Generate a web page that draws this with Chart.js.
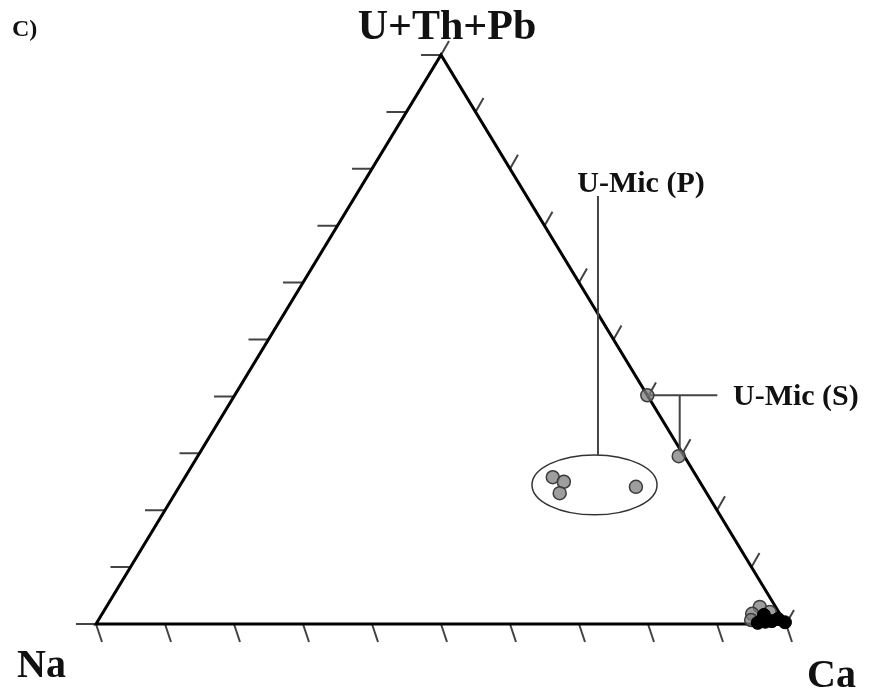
<!DOCTYPE html>
<html>
<head>
<meta charset="utf-8">
<script src="https://cdn.jsdelivr.net/npm/chart.js@4.4.1/dist/chart.umd.min.js"></script>
<style>
  html, body { margin: 0; padding: 0; background: #fff; }
</style>
</head>
<body>
<canvas id="ternary" width="869" height="695"></canvas>
<script>
// Apex labels of the ternary plot
const apexLabels = { left: 'Na', right: 'Ca', top: 'U+Th+Pb' };
const panelLabel = 'C)';
const groupLabels = { primary: 'U-Mic (P)', secondary: 'U-Mic (S)' };

// U-Mic (P) analyses (normalised %)
const micP_Na = [20.9, 19.7, 21.3, 9.7];
const micP_Ca = [53.3, 55.3, 55.7, 66.2];
const micP_U = [25.8, 25.0, 23.0, 24.1];

// U-Mic (S) analyses
const micS_Na = [0.0, 0.8];
const micS_Ca = [59.8, 69.7];
const micS_U = [40.2, 29.5];

// Ca-rich analyses, grey symbols
const caGrey_Na = [2.3, 4.0, 4.7, 1.3];
const caGrey_Ca = [94.7, 94.2, 94.6, 96.6];
const caGrey_U = [3.0, 1.8, 0.7, 2.1];

// Ca-rich analyses, black symbols
const caBlack_Na = [4.0, 2.8, 1.8, 0.7, 2.4, 0.0];
const caBlack_Ca = [95.8, 96.8, 97.7, 98.4, 96.0, 99.7];
const caBlack_U = [0.2, 0.4, 0.5, 0.9, 1.6, 0.3];

// tick divisions along each side
const divisions = 10;

// ternary -> cartesian (Na at 0,0 ; Ca at 1,0 ; U+Th+Pb at 0.5,1)
function tern(na, ca, u) {
    const s = na + ca + u;
    return { x: (ca + u / 2) / s, y: u / s };
}
function toPoints(na, ca, u) {
    return na.map((v, i) => tern(v, ca[i], u[i]));
}

const greyStyle = {
    backgroundColor: 'rgba(125,125,125,0.75)',
    borderColor: '#3c3c3c',
    borderWidth: 1.5,
    pointRadius: 6.5,
    clip: false
};

// triangle frame, ticks, ellipse and leader lines
const framePlugin = {
    id: 'frame',
    beforeDatasetsDraw(chart) {
        const { ctx, scales: { x, y } } = chart;
        const px = p => ({ x: x.getPixelForValue(p.x), y: y.getPixelForValue(p.y) });
        const A = px({ x: 0, y: 0 }), B = px({ x: 1, y: 0 }), C = px({ x: 0.5, y: 1 });

        ctx.save();
        ctx.lineCap = 'butt';

        // ticks
        ctx.strokeStyle = '#444';
        ctx.lineWidth = 2;
        for (let k = 0; k <= divisions; k++) {
            const t = k / divisions;
            // left side, horizontal ticks pointing out
            const l = { x: C.x + (A.x - C.x) * t, y: C.y + (A.y - C.y) * t };
            // base, slanted down
            const b = { x: A.x + (B.x - A.x) * t, y: A.y };
            // right side, slanted up
            const r = { x: B.x + (C.x - B.x) * t, y: B.y + (C.y - B.y) * t };
            ctx.beginPath();
            ctx.moveTo(l.x, l.y); ctx.lineTo(l.x - 20, l.y);
            ctx.moveTo(b.x, b.y); ctx.lineTo(b.x + 6, b.y + 18);
            ctx.moveTo(r.x, r.y); ctx.lineTo(r.x + 8, r.y - 14);
            ctx.stroke();
        }

        // triangle
        ctx.strokeStyle = '#000';
        ctx.lineWidth = 3;
        ctx.lineJoin = 'miter';
        ctx.beginPath();
        ctx.moveTo(A.x, A.y); ctx.lineTo(B.x, B.y); ctx.lineTo(C.x, C.y); ctx.closePath();
        ctx.stroke();

        // ellipse around the U-Mic (P) group
        const ec = px({ x: 0.7225, y: 0.2445 });
        const erx = x.getPixelForValue(0.7225 + 0.0906) - ec.x;
        const ery = ec.y - y.getPixelForValue(0.2445 + 0.0527);
        ctx.strokeStyle = '#333';
        ctx.lineWidth = 1.5;
        ctx.beginPath();
        ctx.ellipse(ec.x, ec.y, erx, ery, 0, 0, Math.PI * 2);
        ctx.stroke();

        // leader lines
        ctx.strokeStyle = '#444';
        ctx.lineWidth = 2;
        const pTop = px({ x: 0.7275, y: 0.752 });
        const pBot = px({ x: 0.7275, y: 0.2972 });
        ctx.beginPath();
        ctx.moveTo(pTop.x, pTop.y); ctx.lineTo(pBot.x, pBot.y);
        ctx.stroke();

        const s1 = px(tern(micS_Na[0], micS_Ca[0], micS_U[0]));
        const s2 = px(tern(micS_Na[1], micS_Ca[1], micS_U[1]));
        ctx.beginPath();
        ctx.moveTo(s1.x, s1.y); ctx.lineTo(s1.x + 70, s1.y);
        ctx.moveTo(s2.x + 1, s1.y); ctx.lineTo(s2.x + 1, s2.y - 4);
        ctx.stroke();
        ctx.restore();
    },
    afterDraw(chart) {
        const { ctx } = chart;
        ctx.save();
        ctx.fillStyle = '#111';
        ctx.textBaseline = 'alphabetic';
        ctx.textAlign = 'left';
        ctx.font = 'bold 24px "Liberation Serif"';
        ctx.fillText(panelLabel, 12, 36);
        ctx.font = 'bold 42px "Liberation Serif"';
        ctx.textAlign = 'center';
        ctx.fillText(apexLabels.top, 447, 39);
        ctx.textAlign = 'left';
        ctx.font = 'bold 40px "Liberation Serif"';
        ctx.fillText(apexLabels.left, 17, 677);
        ctx.fillText(apexLabels.right, 807, 687);
        ctx.font = 'bold 30px "Liberation Serif"';
        ctx.textAlign = 'center';
        ctx.fillText(groupLabels.primary, 641, 192);
        ctx.textAlign = 'left';
        ctx.fillText(groupLabels.secondary, 733, 405);
        ctx.restore();
    }
};

new Chart(document.getElementById('ternary'), {
    type: 'scatter',
    data: {
        datasets: [{
            label: 'Ca-rich (black)',
            data: toPoints(caBlack_Na, caBlack_Ca, caBlack_U),
            backgroundColor: '#000',
            borderColor: '#000',
            borderWidth: 1,
            pointRadius: 6.5,
            clip: false,
            order: 0
        }, {
            label: 'Ca-rich (grey)',
            data: toPoints(caGrey_Na, caGrey_Ca, caGrey_U),
            ...greyStyle,
            order: 1
        }, {
            label: groupLabels.primary,
            data: toPoints(micP_Na, micP_Ca, micP_U),
            ...greyStyle,
            order: 1
        }, {
            label: groupLabels.secondary,
            data: toPoints(micS_Na, micS_Ca, micS_U),
            ...greyStyle,
            order: 1
        }]
    },
    options: {
        responsive: false,
        devicePixelRatio: 1,
        animation: false,
        layout: {
            padding: { left: 96, right: 83, top: 55, bottom: 71 }
        },
        scales: {
            x: { type: 'linear', min: 0, max: 1, display: false },
            y: { type: 'linear', min: 0, max: 1, display: false }
        },
        plugins: {
            legend: { display: false },
            tooltip: { enabled: false }
        }
    },
    plugins: [framePlugin]
});
</script>
</body>
</html>
